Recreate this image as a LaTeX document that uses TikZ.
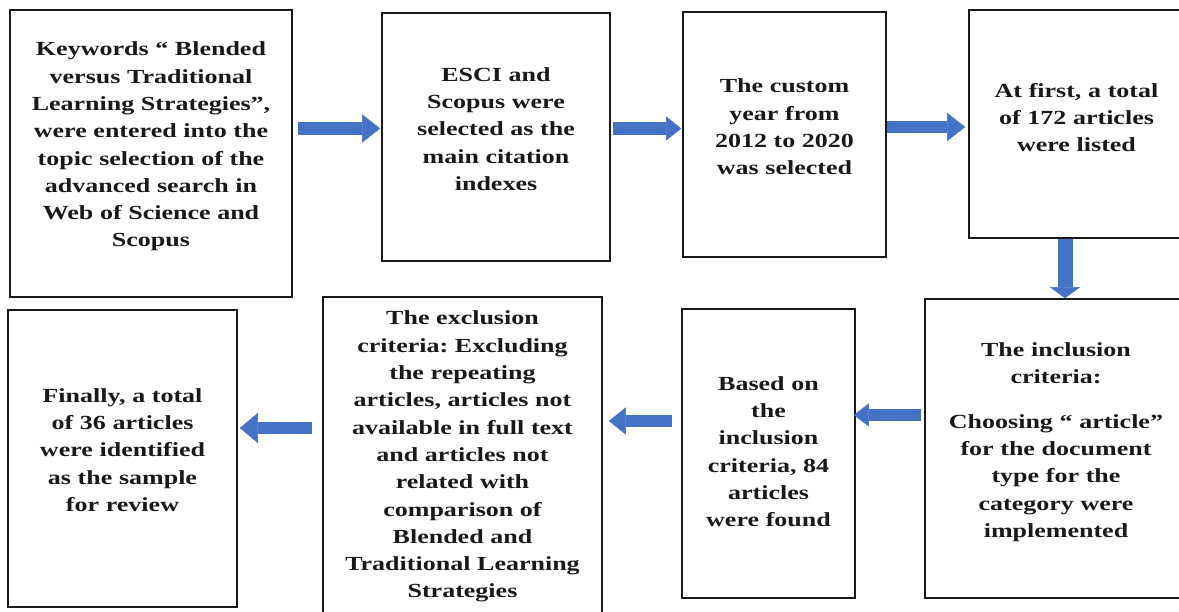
\documentclass[tikz,border=0pt]{standalone}
\usepackage{fontspec}
\setmainfont[FakeStretch=1.3]{Liberation Serif}
\usetikzlibrary{arrows.meta}
\definecolor{arrowblue}{HTML}{4472C4}
\frenchspacing
\tikzset{
  stepbox/.style={draw=black!90, line width=1.6pt, align=center, inner sep=0pt,
    font=\bfseries\fontsize{20}{27.3}\selectfont, text=black!90},
  lift/.style={execute at end node={\rule[-#1]{0pt}{#1}}},
  flow/.style={draw=arrowblue, line width=12.5pt,
    -{Triangle[length=18pt,width=28pt,line width=0.5pt]}},
}
\begin{document}
\begin{tikzpicture}[x=1pt,y=-1pt]
  \useasboundingbox (0,0) rectangle (1179,612);
  %% top row
  \node[stepbox,minimum width=282,minimum height=287,text width=272,lift=18pt] (kw) at (151,153.5)
    {Keywords “ Blended\\ versus Traditional\\ Learning Strategies”,\\ were entered into the\\
     topic selection of the\\ advanced search in\\ Web of Science and\\ Scopus};
  \node[stepbox,minimum width=228,minimum height=248,text width=218,lift=16pt] (idx) at (496,137)
    {ESCI and\\ Scopus were\\ selected as the\\ main citation\\ indexes};
  \node[stepbox,minimum width=203,minimum height=245,text width=193,lift=15pt] (yr) at (784.5,134.5)
    {The custom\\ year from\\ 2012 to 2020\\ was selected};
  \node[stepbox,minimum width=215,minimum height=228,text width=205,lift=13pt] (tot) at (1076.5,124)
    {At first, a total\\ of 172 articles\\ were listed};
  %% bottom row
  \node[stepbox,minimum width=262,minimum height=299,text width=252,lift=17pt] (inc) at (1056,448.5)
    {The inclusion\\ criteria:\\[17pt] Choosing “ article”\\ for the document\\ type for the\\
     category were\\ implemented};
  \node[stepbox,minimum width=173,minimum height=289,text width=165,lift=4pt] (fnd) at (768.5,453.5)
    {Based on\\ the\\ inclusion\\ criteria, 84\\ articles\\ were found};
  \node[stepbox,minimum width=279,minimum height=333,text width=269,lift=18pt] (exc) at (462.5,463.5)
    {The exclusion\\ criteria: Excluding\\ the repeating\\ articles, articles not\\
     available in full text\\ and articles not\\ related with\\ comparison of\\ Blended and\\
     Traditional Learning\\ Strategies};
  \node[stepbox,minimum width=229,minimum height=297,text width=219,lift=17pt] (fin) at (122.5,458.5)
    {Finally, a total\\ of 36 articles\\ were identified\\ as the sample\\ for review};
  %% block arrows
  \draw[flow,shorten <=5pt,shorten >=1pt] (kw.east |- 0,128.5) -- (idx.west |- 0,128.5);
  \draw[flow,shorten <=2pt,shorten >=1pt,-{Triangle[length=15pt,width=24pt,line width=0.5pt]}]
    (idx.east |- 0,128.5) -- (yr.west |- 0,128.5);
  \draw[flow,shorten >=3pt] (yr.east |- 0,127) -- (tot.west |- 0,127);
  \draw[flow,line width=15pt,-{Triangle[length=11pt,width=30pt,line width=0.5pt]}]
    (tot.south -| 1065,0) -- (inc.north -| 1065,0);
  \draw[flow,line width=12pt,shorten <=3pt,shorten >=-2pt,-{Triangle[length=15pt,width=23pt,line width=0.5pt]}]
    (inc.west |- 0,415) -- (fnd.east |- 0,415);
  \draw[flow,line width=11.5pt,shorten <=9pt,shorten >=6pt,-{Triangle[length=17pt,width=27pt,line width=0.5pt]}]
    (fnd.west |- 0,421) -- (exc.east |- 0,421);
  \draw[flow,line width=11.5pt,shorten <=10pt,shorten >=2pt,-{Triangle[length=18pt,width=30pt,line width=0.5pt]}]
    (exc.west |- 0,428) -- (fin.east |- 0,428);
\end{tikzpicture}
\end{document}
